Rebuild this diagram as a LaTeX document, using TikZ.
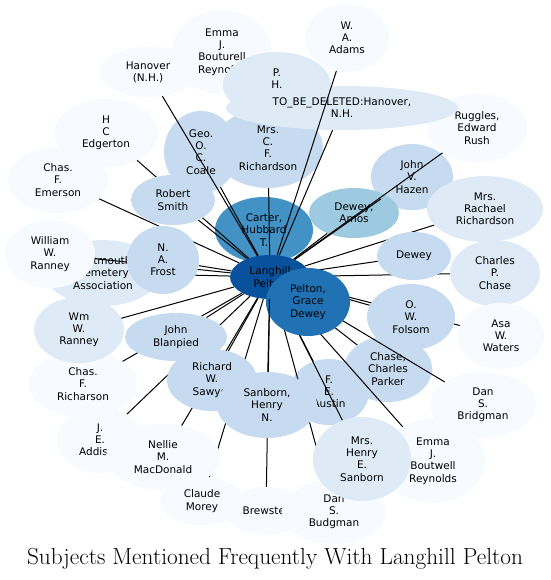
\documentclass[tikz,border=0pt]{standalone}
\usepackage{fontspec}
\usepackage{xcolor}
\usetikzlibrary{shapes.geometric}
\newfontfamily\lblfont{DejaVu Sans}
\definecolor{bl0}{HTML}{F7FBFF}
\definecolor{bl1}{HTML}{DEEBF7}
\definecolor{bl2}{HTML}{C6DBEF}
\definecolor{bl3}{HTML}{9ECAE1}
\definecolor{bl5}{HTML}{4292C6}
\definecolor{bl6}{HTML}{2171B5}
\definecolor{bl7}{HTML}{08519C}
\pgfdeclarelayer{back}
\pgfdeclarelayer{front}
\pgfsetlayers{back,main,front}

\begin{document}
\begin{tikzpicture}[
  x=1pt, y=-1pt,
  person/.style={ellipse, inner sep=0pt, align=center,
                 font=\lblfont\fontsize{10.5}{12.2}\selectfont},
  sz/.style 2 args={minimum width=#1pt, minimum height=#2pt},
  link/.style={line width=1pt},
  title/.style={anchor=base, font=\fontsize{23.3}{26}\selectfont}
]
  \useasboundingbox (0,0) rectangle (550,580);
  \begin{pgfonlayer}{back}
  \node[person, sz={100}{84}, fill=bl0] (em) at (222,52)  {Emma\\J.\\Bouturell\\Reynolds};
  \node[person, sz={96}{50},  fill=bl0] (hn) at (148,72)  {Hanover\\(N.H.)};
  \node[person, sz={84}{68},  fill=bl0] (ad) at (347,38)  {W.\\A.\\Adams};
  \node[person, sz={108}{66}, fill=bl1] (ph) at (277,85)  {P.\\H.\\\mbox{}};
  \node[person, sz={100}{68}, fill=bl0] (ru) at (477,128) {Ruggles,\\Edward\\Rush};
  \node[person, sz={74}{82},  fill=bl2] (co) at (201,152) {Geo.\\O.\\C.\\Coale};
  \node[person, sz={110}{80}, fill=bl2] (rc) at (268,148) {Mrs.\\C.\\F.\\Richardson};
  \node[person, sz={232}{44}, fill=bl1] (td) at (342,108) {TO\_BE\_DELETED:Hanover,\\N.H.};
  \node[person, sz={104}{68}, fill=bl0] (ed) at (106,133) {H\\C\\Edgerton};
  \node[person, sz={100}{66}, fill=bl0] (ce) at (58,180)  {Chas.\\F.\\Emerson};
  \node[person, sz={114}{66}, fill=bl1] (dc) at (103,273) {Dartmouth\\Cemetery\\Association};
  \node[person, sz={90}{68},  fill=bl0] (wr) at (50,254)  {William\\W.\\Ranney};
  \node[person, sz={82}{66},  fill=bl2] (hz) at (412,177) {John\\V.\\Hazen};
  \node[person, sz={116}{66}, fill=bl1] (rr) at (485,209) {Mrs.\\Rachael\\Richardson};
  \node[person, sz={90}{50},  fill=bl3] (da) at (354,213) {Dewey,\\Amos};
  \node[person, sz={90}{66},  fill=bl1] (cc) at (495,273) {Charles\\P.\\Chase};
  \node[person, sz={86}{66},  fill=bl0] (aw) at (501,336) {Asa\\W.\\Waters};
  \node[person, sz={88}{66},  fill=bl2] (cp) at (388,369) {Chase,\\Charles\\Parker};
  \node[person, sz={106}{66}, fill=bl0] (db) at (483,405) {Dan\\S.\\Bridgman};
  \node[person, sz={104}{84}, fill=bl0] (eb) at (433,461) {Emma\\J.\\Boutwell\\Reynolds};
  \node[person, sz={80}{66},  fill=bl2] (fa) at (329,392) {F.\\E.\\Austin};
  \node[person, sz={80}{48},  fill=bl0] (bw) at (266,511) {Brewster};
  \node[person, sz={84}{48},  fill=bl0] (cm) at (202,501) {Claude\\Morey};
  \node[person, sz={104}{64}, fill=bl0] (bu) at (334,512) {Dan\\S.\\Budgman};
  \node[person, sz={86}{66},  fill=bl0] (ja) at (100,440) {J.\\E.\\Addison};
  \node[person, sz={108}{66}, fill=bl0] (cr) at (83,384)  {Chas.\\F.\\Richarson};
  \node[person, sz={90}{66},  fill=bl1] (wm) at (79,330)  {Wm\\W.\\Ranney};
  \node[person, sz={98}{66},  fill=bl5] (ct) at (264,230) {Carter,\\Hubbard\\T.};
  \node[person, sz={80}{44},  fill=bl7] (lp) at (270,277) {Langhill\\Pelton};
  \end{pgfonlayer}

  \begin{pgfonlayer}{front}
  \node[person, sz={84}{68},  fill=bl6] (gd) at (308,302) {Pelton,\\Grace\\Dewey};
  \node[person, sz={84}{50},  fill=bl2] (rs) at (173,200) {Robert\\Smith};
  \node[person, sz={72}{68},  fill=bl2] (nf) at (163,260) {N.\\A.\\Frost};
  \node[person, sz={102}{48}, fill=bl2] (jb) at (176,337) {John\\Blanpied};
  \node[person, sz={90}{62},  fill=bl2] (rw) at (212,380) {Richard\\W.\\Sawyer};
  \node[person, sz={100}{66}, fill=bl2] (sh) at (267,405) {Sanborn,\\Henry\\N.};
  \node[person, sz={98}{84},  fill=bl1] (ms) at (362,459) {Mrs.\\Henry\\E.\\Sanborn};
  \node[person, sz={114}{66}, fill=bl0] (nm) at (163,457) {Nellie\\M.\\MacDonald};
  \node[person, sz={88}{66},  fill=bl2] (of) at (411,317) {O.\\W.\\Folsom};
  \node[person, sz={74}{48},  fill=bl2] (dw) at (414,256) {Dewey};
  \draw[link] (lp)--(sh);
  \end{pgfonlayer}

  \draw[link] (lp)--(hn); \draw[link] (lp)--(co); \draw[link] (lp)--(rc);
  \draw[link] (lp)--(td); \draw[link] (lp)--(ad); \draw[link] (lp)--(hz);
  \draw[link] (lp)--(ru); \draw[link] (lp)--(rr); \draw[link] (lp)--(da);
  \draw[link] (lp)--(cc); \draw[link] (lp)--(aw); \draw[link] (lp)--(cp);
  \draw[link] (lp)--(db); \draw[link] (lp)--(eb); \draw[link] (lp)--(bu);
  \draw[link] (lp)--(fa); \draw[link] (lp)--(bw); \draw[link] (lp)--(cm);
  \draw[link] (lp)--(ja); \draw[link] (lp)--(cr); \draw[link] (lp)--(wm);
  \draw[link] (lp)--(dc); \draw[link] (lp)--(wr); \draw[link] (lp)--(ce);
  \draw[link] (lp)--(ed); \draw[link] (lp)--(rs); \draw[link] (lp)--(nf);
  \draw[link] (lp)--(jb); \draw[link] (lp)--(rw); \draw[link] (lp)--(ms);
  \draw[link] (lp)--(nm); \draw[link] (lp)--(of); \draw[link] (lp)--(dw);

  \node[title] (ttl) at (275,564) {Subjects Mentioned Frequently With Langhill Pelton};
\end{tikzpicture}
\end{document}
